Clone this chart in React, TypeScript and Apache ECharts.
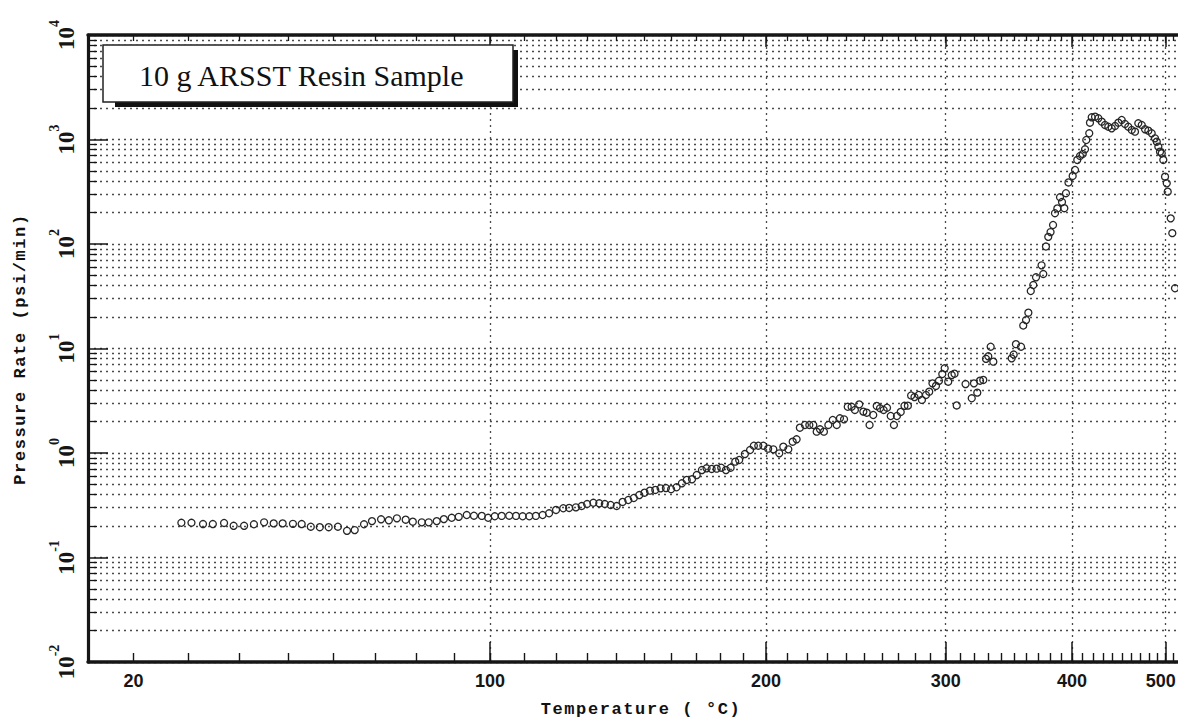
import React, { useEffect, useRef } from 'react';
import * as echarts from 'echarts';

// Temperature (°C) of each measured point
const temperatureC = [
  28.7, 30.6, 32.8, 34.7, 36.9, 38.8, 40.9, 42.9, 45.0, 47.0,
  48.9, 51.1, 53.0, 55.0, 57.0, 59.0, 61.1, 63.2, 65.0, 67.2,
  69.1, 71.3, 73.2, 75.2, 77.4, 79.2, 81.5, 83.3, 85.4, 87.3,
  89.4, 91.3, 93.5, 95.5, 97.7,
  99.5, 101.4, 103.4, 105.6, 107.6, 109.6, 111.6, 113.6, 115.7, 117.7,
  119.9, 122.2, 124.1, 126.3, 128.2, 130.0, 132.1, 134.1, 136.0, 138.0,
  140.1, 142.2, 144.2, 146.2, 148.2, 150.1, 152.1, 154.1, 156.1, 158.1,
  160.1, 162.2, 164.3, 166.2, 168.3, 170.2, 172.3, 174.2, 176.3, 178.4,
  180.3, 182.3, 184.3, 186.3, 188.0,
  190.5, 192.8, 194.5, 196.5, 198.8, 201.0, 203.4, 206.2, 208.1, 210.5,
  212.6, 214.5, 216.1, 218.6, 220.8, 222.8, 224.5, 226.2, 228.2, 230.5,
  232.8, 234.9, 236.6, 238.8, 240.8, 242.9, 244.7, 247.1, 249.4, 251.3,
  252.9, 255.0, 257.0, 258.9, 261.0, 263.0, 265.2, 267.1, 268.9, 271.2,
  273.5, 275.6, 277.6, 279.7, 282.4, 284.4, 287.0, 289.1, 291.2, 293.5,
  295.5, 297.7, 299.3, 301.7, 304.1, 306.0, 307.5, 313.7, 318.1, 319.7,
  322.1, 324.1, 326.5, 328.5, 330.2, 332.0, 334.0, 348.2, 349.8, 351.6,
  355.7, 357.5, 359.8, 361.7, 363.7, 365.8, 368.1, 372.8, 374.3, 376.6,
  378.6, 380.6, 382.8, 384.5, 386.6, 389.0, 390.8, 392.9, 394.4, 396.7,
  400.6, 402.8, 404.9, 407.5, 410.1, 412.3, 413.5, 416.4, 417.1, 418.8,
  422.1, 425.4, 428.8, 432.1, 435.5, 439.0, 442.5, 446.0, 449.6, 453.1,
  456.7, 460.5, 464.1, 467.8, 471.7, 475.5, 479.3, 483.2, 487.1, 489.2,
  491.1, 493.1, 495.2, 497.1, 499.2, 501.3, 502.5, 506.2, 508.2, 511.6
];

// Pressure rate (psi/min) of each measured point
const pressureRate = [
  0.215, 0.215, 0.209, 0.209, 0.214, 0.201, 0.201, 0.208, 0.217, 0.212,
  0.212, 0.210, 0.209, 0.197, 0.195, 0.195, 0.197, 0.180, 0.183, 0.208,
  0.223, 0.232, 0.227, 0.237, 0.230, 0.220, 0.217, 0.217, 0.223, 0.233,
  0.240, 0.245, 0.255, 0.251, 0.250,
  0.240, 0.248, 0.250, 0.251, 0.250, 0.248, 0.248, 0.250, 0.255, 0.265,
  0.285, 0.296, 0.298, 0.302, 0.311, 0.325, 0.334, 0.330, 0.325, 0.318,
  0.311, 0.340, 0.355, 0.371, 0.396, 0.417, 0.436, 0.443, 0.459, 0.462,
  0.450, 0.470, 0.513, 0.552, 0.560, 0.615, 0.687, 0.714, 0.703, 0.708,
  0.723, 0.687, 0.723, 0.826, 0.857,
  0.977, 1.068, 1.174, 1.174, 1.174, 1.100, 1.084, 0.993, 1.149, 1.084,
  1.283, 1.352, 1.746, 1.854, 1.854, 1.854, 1.600, 1.686, 1.600, 1.854,
  2.07, 1.854, 2.15, 2.10, 2.77, 2.77, 2.58, 2.92, 2.49, 2.43,
  1.854, 2.31, 2.82, 2.68, 2.58, 2.71, 2.26, 1.854, 2.26, 2.47,
  2.83, 2.84, 3.55, 3.43, 3.59, 3.22, 3.59, 3.86, 4.64, 4.38,
  4.91, 5.70, 6.47, 4.81, 5.57, 5.74, 2.85, 4.57, 3.34, 4.64,
  3.78, 4.92, 5.00, 7.97, 8.42, 10.4, 7.48, 8.05, 8.76, 11.0,
  10.4, 16.6, 18.7, 22.0, 35.5, 40.5, 48.0, 62.5, 51.6, 94.6,
  117, 130, 152, 197, 219, 280, 252, 220, 306, 388,
  448, 511, 637, 695, 727, 806, 989, 1146, 1448, 1631,
  1652, 1595, 1480, 1377, 1325, 1280, 1346, 1448, 1537, 1407,
  1325, 1233, 1188, 1429, 1377, 1252, 1214, 1146, 1026, 953,
  853, 764, 738, 637, 441, 381, 317, 176, 127, 37.7
];

// Axis tick labels and grid positions
const xLabelTemps = [20, 100, 200, 300, 400, 500];
const xGridTemps = [100, 200, 300, 400, 500];
const xMinorTemps: number[] = [];
for (let t = 20; t <= 510; t += 10) xMinorTemps.push(t);
const yDecadeExponents = [-2, -1, 0, 1, 2, 3, 4];
const yMinorMultipliers = [2, 3, 4, 5, 6, 7, 8, 9];
const xRangeTemps = [12.2, 515.4];

// Reciprocal absolute temperature scale (Arrhenius-type axis)
const toU = (t: number) => -1000 / (t + 273.15);
const fromU = (u: number) => -1000 / u - 273.15;

const yMinorLogs: number[] = [];
for (let k = -2; k < 4; k++) {
  for (const m of yMinorMultipliers) yMinorLogs.push(k + Math.log10(m));
}

const INK = '#161616';
const GRID_DOT = { type: [2, 4] as any, color: '#4a4a4a', width: 1.3 };

const titleFont = 'bold 17px "Liberation Mono", monospace';

const css = `
text[style*="Liberation Mono"], text[font-family*="Liberation Mono"] { letter-spacing: 1.6px; }
`;

export default function App() {
  const ref = useRef<HTMLDivElement>(null);
  useEffect(() => {
    const chart = echarts.init(ref.current!, null, { renderer: 'svg' });
    const xMin = toU(xRangeTemps[0]);
    const xMax = toU(xRangeTemps[1]);
    const baseX = { type: 'value', min: xMin, max: xMax, gridIndex: 0 };
    const baseY = { type: 'value', min: -2, max: 4, gridIndex: 0 };
    const lastLabel = xLabelTemps[xLabelTemps.length - 1];
    const option: any = {
      animation: false,
      backgroundColor: '#ffffff',
      grid: {
        left: 88,
        right: 0,
        top: 35,
        bottom: 58,
        containLabel: false,
        outerBoundsMode: 'none',
      },
      xAxis: [
        {
          ...baseX,
          position: 'bottom',
          axisLine: { show: true, onZero: false, lineStyle: { color: INK, width: 3.5 } },
          axisTick: {
            show: true, inside: true, length: 9,
            customValues: xMinorTemps.map(toU),
            lineStyle: { color: INK, width: 1.4 },
          },
          axisLabel: {
            show: true,
            customValues: xLabelTemps.map(toU),
            formatter: (u: number) => {
              const t = Math.round(fromU(u));
              return t === lastLabel ? `{r|${t}}` : `{n|${t}}`;
            },
            rich: {
              n: {
                fontFamily: '"Liberation Sans", sans-serif',
                fontWeight: 'bold', fontSize: 18, color: INK,
              },
              r: {
                fontFamily: '"Liberation Sans", sans-serif',
                fontWeight: 'bold', fontSize: 18, color: INK,
                padding: [0, 10, 0, 0],
              },
            },
            margin: 10,
          },
          splitLine: { show: false },
        },
        {
          ...baseX,
          position: 'bottom',
          axisLine: { show: false, onZero: false },
          axisTick: {
            show: true, inside: true, length: 20,
            customValues: xGridTemps.map(toU),
            lineStyle: { color: INK, width: 1.5 },
          },
          axisLabel: { show: false },
          splitLine: { show: true, lineStyle: GRID_DOT },
        },
        {
          ...baseX,
          position: 'top',
          axisLine: { show: true, onZero: false, lineStyle: { color: INK, width: 3.5 } },
          axisTick: {
            show: true, inside: true, length: 6,
            customValues: xMinorTemps.map(toU),
            lineStyle: { color: INK, width: 1.3 },
          },
          axisLabel: { show: false },
          splitLine: { show: false },
        },
        {
          ...baseX,
          position: 'top',
          axisLine: { show: false, onZero: false },
          axisTick: {
            show: true, inside: true, length: 12,
            customValues: xGridTemps.map(toU),
            lineStyle: { color: INK, width: 1.5 },
          },
          axisLabel: { show: false },
          splitLine: { show: false },
        },
      ],
      yAxis: [
        {
          type: 'log',
          logBase: 10,
          min: Math.pow(10, yDecadeExponents[0]),
          max: Math.pow(10, yDecadeExponents[yDecadeExponents.length - 1]),
          show: false,
          splitLine: { show: false },
        },
        {
          ...baseY,
          position: 'left',
          axisLine: { show: true, onZero: false, lineStyle: { color: INK, width: 3.2 } },
          axisTick: {
            show: true, inside: true, length: 9,
            customValues: yMinorLogs,
            lineStyle: { color: INK, width: 1.3 },
          },
          axisLabel: { show: false },
          splitLine: { show: true, lineStyle: GRID_DOT },
        },
        {
          ...baseY,
          interval: 1,
          position: 'left',
          axisLine: { show: false, onZero: false },
          axisTick: {
            show: true, inside: true, length: 20,
            customValues: yDecadeExponents,
            lineStyle: { color: INK, width: 1.5 },
          },
          axisLabel: {
            show: true,
            customValues: yDecadeExponents,
            rotate: 90,
            margin: 10,
            formatter: (v: number) => `{b|10}{e|${Math.round(v)}}`,
            rich: {
              b: {
                fontFamily: '"Liberation Serif", serif',
                fontWeight: 'bold',
                fontSize: 23,
                lineHeight: 31,
                verticalAlign: 'bottom',
                color: INK,
              },
              e: {
                fontFamily: '"Liberation Serif", serif',
                fontWeight: 'bold',
                fontSize: 14,
                lineHeight: 14,
                verticalAlign: 'top',
                color: INK,
              },
            },
          },
          splitLine: { show: true, lineStyle: GRID_DOT },
        },
      ],
      series: [
        {
          type: 'scatter',
          xAxisIndex: 0,
          yAxisIndex: 0,
          symbol: 'circle',
          symbolSize: 7,
          itemStyle: {
            color: 'rgba(255,255,255,0)',
            borderColor: '#262626',
            borderWidth: 1.3,
            opacity: 1,
          },
          data: temperatureC.map((t, i) => [toU(t), pressureRate[i]]),
          z: 5,
        },
      ],
      graphic: [
        {
          type: 'rect',
          z: 100,
          shape: { x: 115, y: 50, width: 403, height: 57 },
          style: { fill: '#111' },
        },
        {
          type: 'rect',
          z: 101,
          shape: { x: 103, y: 45, width: 410, height: 57 },
          style: { fill: '#fff', stroke: '#222', lineWidth: 1.5 },
        },
        {
          type: 'text',
          z: 102,
          x: 139,
          y: 75,
          style: {
            text: '10 g ARSST Resin Sample',
            font: '30px "Liberation Serif", serif',
            textVerticalAlign: 'middle',
            fill: '#111',
          },
        },
        {
          type: 'text',
          z: 102,
          x: 20,
          y: 349,
          rotation: Math.PI / 2,
          style: {
            text: 'Pressure Rate (psi/min)',
            font: titleFont,
            textAlign: 'center',
            textVerticalAlign: 'middle',
            fill: '#111',
          },
        },
        {
          type: 'text',
          z: 102,
          x: 641,
          y: 709,
          style: {
            text: 'Temperature ( °C)',
            font: titleFont,
            textAlign: 'center',
            textVerticalAlign: 'middle',
            fill: '#111',
          },
        },
      ],
    };
    chart.setOption(option);
    return () => chart.dispose();
  }, []);
  return (
    <>
      <style>{css}</style>
      <div
        ref={ref}
        style={{ position: 'absolute', left: 0, top: 0, width: 1178, height: 720, background: '#fff' }}
      />
    </>
  );
}
